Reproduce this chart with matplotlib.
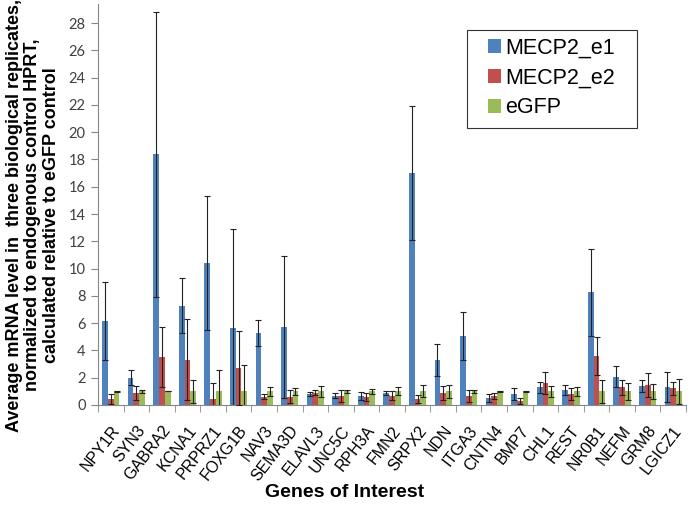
import numpy as np
import matplotlib
matplotlib.use('Agg')
import matplotlib.pyplot as plt
from matplotlib.patches import Rectangle

genes = ['NPY1R', 'SYN3', 'GABRA2', 'KCNA1', 'PRPRZ1', 'FOXG1B', 'NAV3', 'SEMA3D',
         'ELAVL3', 'UNC5C', 'RPH3A', 'FMN2', 'SRPX2', 'NDN', 'ITGA3', 'CNTN4',
         'BMP7', 'CHL1', 'REST', 'NR0B1', 'NEFM', 'GRM8', 'LGICZ1']

e1 = [6.18, 2.0, 18.38, 7.28, 10.39, 5.67, 5.28, 5.74, 0.81, 0.68, 0.68, 0.9,
      17.03, 3.3, 5.08, 0.49, 0.78, 1.3, 1.1, 8.26, 2.08, 1.39, 1.3]
e1_err = [2.85, 0.55, 10.45, 2.0, 4.9, 7.27, 0.95, 5.2, 0.15, 0.2, 0.3, 0.15,
          4.9, 1.2, 1.75, 0.3, 0.45, 0.4, 0.35, 3.2, 0.75, 0.45, 1.1]
e2 = [0.44, 0.9, 3.52, 3.32, 0.44, 2.69, 0.61, 0.61, 0.9, 0.68, 0.56, 0.68,
      0.44, 0.9, 0.66, 0.66, 0.29, 1.59, 0.78, 3.59, 1.3, 1.47, 1.22]
e2_err = [0.35, 0.5, 2.2, 2.96, 1.15, 2.7, 0.2, 0.5, 0.2, 0.45, 0.3, 0.35,
          0.3, 0.5, 0.45, 0.25, 0.2, 0.8, 0.45, 1.4, 0.55, 0.85, 0.5]
gfp = [1.0, 1.0, 1.0, 1.0, 1.0, 1.0, 1.0, 1.0, 1.0, 1.0, 1.0, 1.0,
       1.0, 1.0, 1.0, 1.0, 1.0, 1.0, 1.0, 1.0, 1.0, 1.0, 1.0]
gfp_err = [0.05, 0.1, 0.0, 0.85, 1.6, 1.9, 0.35, 0.25, 0.4, 0.1, 0.2, 0.3,
           0.45, 0.5, 0.1, 0.05, 0.05, 0.4, 0.35, 0.85, 0.6, 0.55, 0.9]

series = [('MECP2_e1', e1, e1_err, '#4F81BD'),
          ('MECP2_e2', e2, e2_err, '#C0504D'),
          ('eGFP', gfp, gfp_err, '#9BBB59')]

plt.rcParams['font.family'] = ['Liberation Sans', 'DejaVu Sans']

fig = plt.figure(figsize=(6.93, 5.08), dpi=100)
ax = fig.add_axes([98 / 693, 103 / 508, 588 / 693, 401 / 508])

x = np.arange(len(genes))
w = 0.225
for i, (name, vals, errs, col) in enumerate(series):
    ax.bar(x + (i - 1) * w, vals, w, color=col, label=name, zorder=2)
    ax.errorbar(x + (i - 1) * w, vals, yerr=errs, fmt='none', ecolor='#222222',
                elinewidth=0.8, capsize=2.5, capthick=0.8, zorder=3)

ax.set_xlim(-0.5, len(genes) - 0.5)
ax.set_ylim(0, 29.4)
ax.set_yticks(np.arange(0, 29, 2))
ax.tick_params(axis='y', colors='#868686', labelcolor='#404040', length=5,
               labelsize=10.5, pad=4)
for lbl in ax.get_yticklabels():
    lbl.set_fontfamily('Lato')

ax.set_xticks(x)
ax.set_xticklabels(genes, rotation=52, ha='right', va='top',
                   rotation_mode='anchor', fontsize=11.5)
ax.tick_params(axis='x', length=0, pad=13)
ax.set_xticks(np.arange(-0.5, len(genes), 1), minor=True)
ax.tick_params(axis='x', which='minor', length=5, color='#868686')

for s in ['top', 'right']:
    ax.spines[s].set_visible(False)
for s in ['left', 'bottom']:
    ax.spines[s].set_color('#868686')

fig.text(33 / 693, 1 - 215 / 508,
         'Average mRNA level in  three biological replicates,\n'
         'normalized to endogenous control HPRT,\n'
         'calculated relative to eGFP control',
         rotation=90, ha='center', va='center', multialignment='center',
         fontsize=13, fontweight='bold', linespacing=1.1)
fig.text(345 / 693, 11 / 508, 'Genes of Interest', ha='center', va='baseline',
         fontsize=14, fontweight='bold')

# legend box drawn separately so the padding matches
ax.add_patch(Rectangle((467 / 693, 1 - 128 / 508), 170 / 693, 98 / 508,
                       transform=fig.transFigure, facecolor='white',
                       edgecolor='#333333', linewidth=0.8, zorder=4,
                       clip_on=False))
leg = ax.legend(loc='upper left', bbox_to_anchor=(484 / 693, 1 - 33 / 508),
                bbox_transform=fig.transFigure, fontsize=15.5, frameon=False,
                handlelength=0.6, handleheight=0.6, handletextpad=0.2,
                labelspacing=0.42, borderpad=0.2, borderaxespad=0)
leg.set_zorder(5)

fig.savefig('out.png', dpi=100)
